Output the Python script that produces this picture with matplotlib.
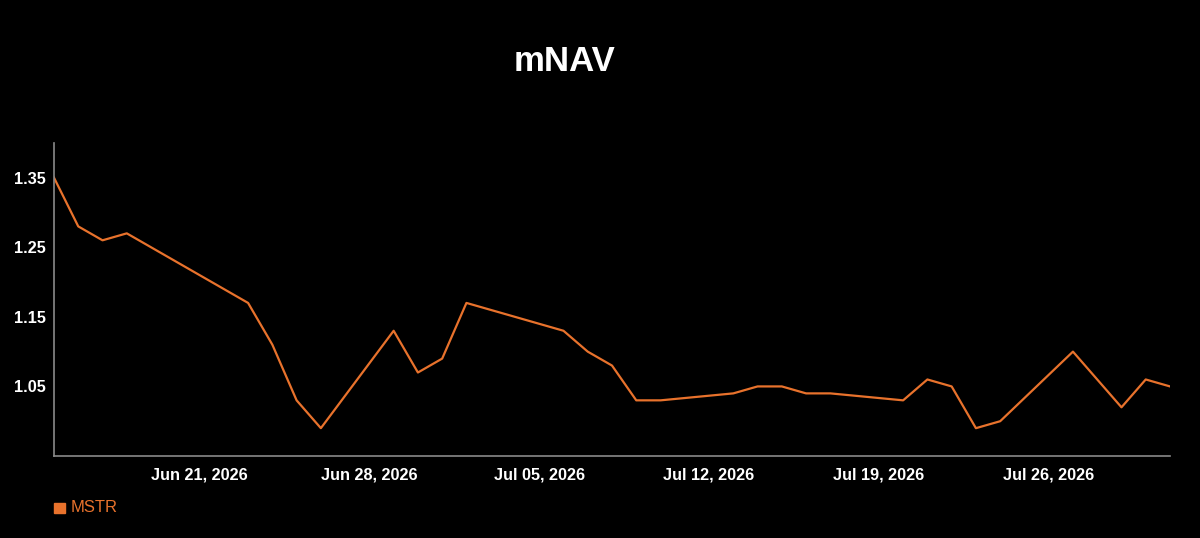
import pandas as pd
import matplotlib.pyplot as plt
import matplotlib.dates as mdates
from matplotlib.patches import Rectangle

plt.rcParams['font.family'] = ['Liberation Sans', 'DejaVu Sans']

# mNAV readings (trading days)
dates = ['2026-06-15', '2026-06-16', '2026-06-17', '2026-06-18', '2026-06-23',
         '2026-06-24', '2026-06-25', '2026-06-26', '2026-06-29', '2026-06-30',
         '2026-07-01', '2026-07-02', '2026-07-06', '2026-07-07', '2026-07-08',
         '2026-07-09', '2026-07-10', '2026-07-13', '2026-07-14', '2026-07-15',
         '2026-07-16', '2026-07-17', '2026-07-20', '2026-07-21', '2026-07-22',
         '2026-07-23', '2026-07-24', '2026-07-27', '2026-07-29', '2026-07-30',
         '2026-07-31']
mnav = [1.35, 1.28, 1.26, 1.27, 1.17,
        1.11, 1.03, 0.99, 1.13, 1.07,
        1.09, 1.17, 1.13, 1.10, 1.08,
        1.03, 1.03, 1.04, 1.05, 1.05,
        1.04, 1.04, 1.03, 1.06, 1.05,
        0.99, 1.00, 1.10, 1.02, 1.06,
        1.05]
yticks = [1.05, 1.15, 1.25, 1.35]
xticks = ['2026-06-21', '2026-06-28', '2026-07-05', '2026-07-12', '2026-07-19', '2026-07-26']

orange = '#E8722C'
x = pd.to_datetime(dates)

fig = plt.figure(figsize=(12, 5.38), dpi=100, facecolor='black')
ax = fig.add_axes([0.045, 0.1524, 0.930, 0.582], facecolor='black')

ax.plot(x, mnav, color=orange, linewidth=1.6)

ax.set_xlim(pd.Timestamp('2026-06-15'), pd.Timestamp('2026-07-31'))
ax.set_ylim(0.95, 1.40)
ax.set_yticks(yticks)
ax.set_yticklabels([f'{v:.2f}' for v in yticks])
ax.set_xticks(pd.to_datetime(xticks))
ax.xaxis.set_major_formatter(mdates.DateFormatter('%b %d, %Y'))

for side in ['top', 'right']:
    ax.spines[side].set_visible(False)
for side in ['left', 'bottom']:
    ax.spines[side].set_color('#8a8a8a')
    ax.spines[side].set_linewidth(1.2)

ax.tick_params(axis='both', length=0, colors='white', labelsize=11.7)
ax.tick_params(axis='x', pad=8)
ax.tick_params(axis='y', pad=6)
for lbl in ax.get_xticklabels() + ax.get_yticklabels():
    lbl.set_fontweight('bold')

fig.text(0.4705, 0.886, 'mNAV', color='white', fontsize=25, fontweight='bold',
         ha='center', va='center')

# legend
fig.patches.append(Rectangle((54 / 1200, 1 - 513 / 538), 11 / 1200, 10 / 538,
                             transform=fig.transFigure, color=orange))
fig.text(71 / 1200, 1 - 508 / 538, 'MSTR', color=orange, fontsize=12,
         ha='left', va='center')

plt.savefig('out.png', dpi=100, facecolor='black')
